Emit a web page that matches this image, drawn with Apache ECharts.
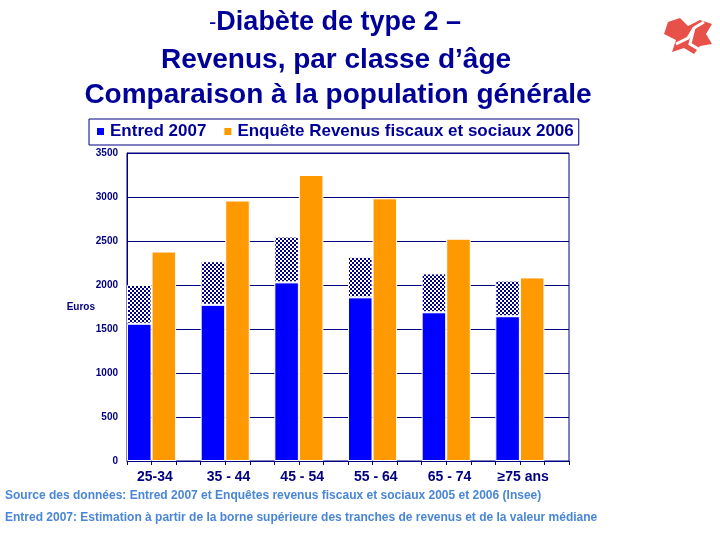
<!DOCTYPE html>
<html><head><meta charset="utf-8">
<script src="https://cdn.jsdelivr.net/npm/echarts@6/dist/echarts.min.js"></script>
<style>html,body{margin:0;padding:0;background:#fff}#c{width:720px;height:540px}</style>
</head><body><div id="c"></div>
<script>
const categories = ['25-34', '35 - 44', '45 - 54', '55 - 64', '65 - 74', '≥75 ans'];
const entredBase = [1560, 1775, 2030, 1860, 1690, 1645];
const entredUpper = [2000, 2270, 2550, 2320, 2132, 2050];
const enqueteRevenus = [2380, 2960, 3250, 2985, 2526, 2086];
const subTicks = ['', '', '', '', '', '', '', '', '', '', '', '', '', '', '', '', '', ''];

const NAVY = '#000080';
const FONT = '"Liberation Sans", Arial, sans-serif';

const pat = document.createElement('canvas');
pat.width = 4; pat.height = 4;
const pc = pat.getContext('2d');
pc.fillStyle = NAVY; pc.fillRect(0, 0, 4, 4);
pc.fillStyle = '#ffffff';
pc.fillRect(0, 0, 2, 2);
pc.fillRect(2, 2, 2, 2);

const upperPart = entredUpper.map((v, i) => v - entredBase[i]);

const chart = echarts.init(document.getElementById('c'), null, {renderer: 'canvas'});
chart.setOption({
  animation: false,
  backgroundColor: '#fff',
  grid: {left: 127, right: 151, top: 153, bottom: 79, show: true, borderColor: NAVY, borderWidth: 1},
  legend: {
    left: 89, top: 119,
    data: ['Entred 2007', 'Enquête Revenus fiscaux et sociaux 2006'],
    icon: 'rect', itemWidth: 9, itemHeight: 9, itemGap: 16,
    padding: [4, 5, 5, 6],
    borderColor: NAVY, borderWidth: 1,
    textStyle: {fontFamily: FONT, fontWeight: 'bold', fontSize: 17, color: '#000099'}
  },
  xAxis: [{
    type: 'category', data: categories, position: 'bottom',
    axisLine: {show: true, lineStyle: {color: NAVY, width: 1}},
    axisTick: {show: false},
    axisLabel: {fontFamily: FONT, fontWeight: 'bold', fontSize: 14, color: NAVY, margin: 9, padding: [0, 18, 0, 0]}
  }, {
    type: 'category', data: subTicks, position: 'bottom', offset: 0,
    axisLine: {show: false},
    axisTick: {show: true, length: 4, lineStyle: {color: NAVY}},
    axisLabel: {show: false}
  }],
  yAxis: {
    type: 'value', min: 0, max: 3500, interval: 500,
    axisLine: {show: true, lineStyle: {color: NAVY}},
    axisTick: {show: false},
    axisLabel: {fontFamily: FONT, fontWeight: 'bold', fontSize: 10, color: NAVY, margin: 9, formatter: v => String(v)},
    splitLine: {lineStyle: {color: NAVY, width: 1}}
  },
  series: [
    {name: 'Entred 2007', type: 'bar', stack: 'entred', data: entredBase, barGap: '0%', barCategoryGap: '0%',
     itemStyle: {color: '#0000FF', borderColor: '#fff', borderWidth: 1}},
    {name: 'Entred 2007 borne sup.', type: 'bar', stack: 'entred', data: upperPart,
     itemStyle: {color: {image: pat, repeat: 'repeat'}, borderColor: '#fff', borderWidth: 1}},
    {name: 'Enquête Revenus fiscaux et sociaux 2006', type: 'bar', data: enqueteRevenus,
     itemStyle: {color: '#FF9900', borderColor: '#fff', borderWidth: 1}},
    {name: 'spacer', type: 'bar', data: categories.map(() => '-'), itemStyle: {color: 'transparent'}}
  ],
  graphic: [
    {type: 'text', x: 335, y: 23, style: {
      text: '{d|-}{t|Diabète de type 2 –}', textAlign: 'center', textVerticalAlign: 'middle',
      rich: {d: {font: '22px ' + FONT, fill: '#000099'}, t: {font: 'bold 27px ' + FONT, fill: '#000099'}}
    }},
    {type: 'text', x: 336, y: 60, style: {text: 'Revenus, par classe d’âge', textAlign: 'center', textVerticalAlign: 'middle', font: 'bold 28px ' + FONT, fill: '#000099'}},
    {type: 'text', x: 338, y: 95, style: {text: 'Comparaison à la population générale', textAlign: 'center', textVerticalAlign: 'middle', font: 'bold 28px ' + FONT, fill: '#000099'}},
    {type: 'text', x: 95, y: 307, style: {text: 'Euros', textAlign: 'right', textVerticalAlign: 'middle', font: 'bold 10px ' + FONT, fill: NAVY}},
    {type: 'text', x: 5, y: 496, style: {text: 'Source des données: Entred 2007 et Enquêtes revenus fiscaux et sociaux 2005 et 2006 (Insee)', textVerticalAlign: 'middle', font: 'bold 12px ' + FONT, fill: '#4a86d8'}},
    {type: 'text', x: 5, y: 518, style: {text: 'Entred 2007: Estimation à partir de la borne supérieure des tranches de revenus et de la valeur médiane', textVerticalAlign: 'middle', font: 'bold 12px ' + FONT, fill: '#4a86d8'}},
    {type: 'polygon', shape: {points: [[668,22],[680,18],[688,26],[700,20],[712,24],[706,34],[712,44],[700,46],[694,54],[684,48],[672,52],[676,40],[664,34]]},
     style: {fill: '#e8504a'}},
    {type: 'polyline', shape: {points: [[676,44],[688,38],[694,28],[704,22]]}, style: {stroke: '#fff', lineWidth: 3, fill: null}},
    {type: 'polyline', shape: {points: [[694,28],[690,44],[700,50]]}, style: {stroke: '#fff', lineWidth: 3, fill: null}}
  ]
});
</script>
</body></html>
